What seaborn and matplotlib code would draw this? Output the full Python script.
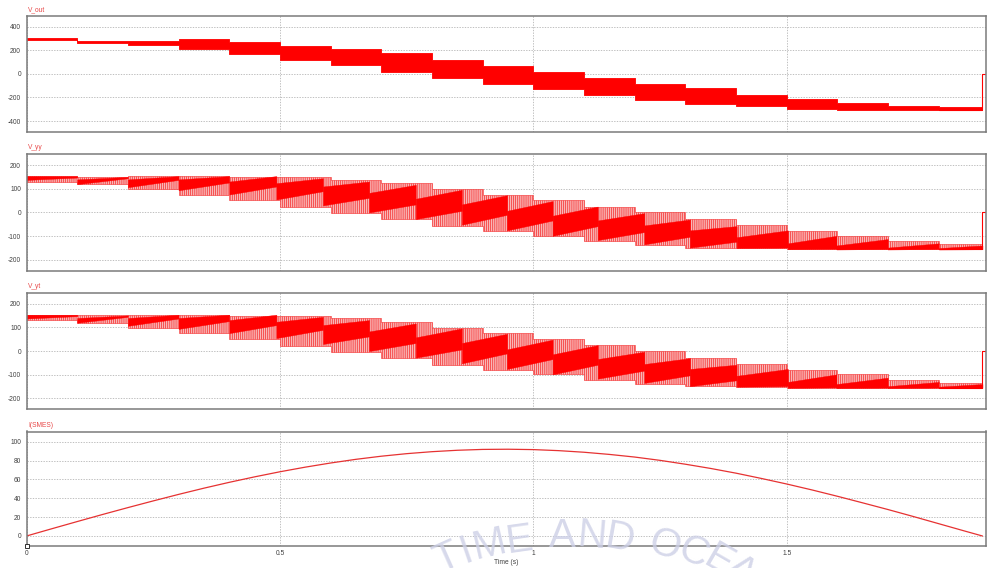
import matplotlib
matplotlib.use("Agg")
import matplotlib.pyplot as plt
import numpy as np
import pandas as pd
import seaborn as sns

sns.set_theme(style="white")
plt.rcParams["font.family"] = ["Liberation Sans", "DejaVu Sans"]
plt.rcParams["hatch.linewidth"] = 0.5

RED = "#ff0000"
LABEL_RED = "#e84848"

# ---------------- time base ----------------
step_edges = [0.0, 0.1, 0.2, 0.3, 0.4, 0.5, 0.6, 0.7, 0.8, 0.9, 1.0,
              1.1, 1.2, 1.3, 1.4, 1.5, 1.6, 1.7, 1.8, 1.886]
t_stop = 1.886
t_axis_end = 1.893

# ---------------- V_out: switched band per step ----------------
vout_high = [300, 282, 282, 298, 270, 240, 212, 174, 118, 69, 19, -33,
             -84, -124, -179, -212, -248, -270, -283]
vout_low = [285, 265, 243, 207, 170, 118, 74, 19, -36, -85, -132, -179,
            -220, -256, -275, -298, -303, -303, -303]

# ---------------- V_yy ----------------
vyy_high = [154, 151, 154, 154, 150, 149, 138, 124, 99, 76, 51, 25, 0,
            -28, -55, -80, -99, -121, -135]
vyy_low = [131, 120, 99, 76, 51, 23, -3, -28, -58, -80, -99, -121, -138,
           -149, -151, -156, -156, -156, -156]
vyy_ramp_edges = [0.0, 0.1, 0.2, 0.3, 0.4, 0.493, 0.585, 0.676, 0.768,
                  0.859, 0.948, 1.038, 1.127, 1.219, 1.309, 1.401, 1.502,
                  1.598, 1.699, 1.800, 1.886]
vyy_ramp_top_start = [154, 140, 140, 140, 131, 124, 110, 83, 58, 34, 7,
                      -14, -34, -55, -76, -105, -131, -140, -149, -151]
vyy_ramp_top_end = [154, 151, 154, 154, 154, 145, 131, 117, 96, 73, 48,
                    25, -3, -30, -58, -76, -99, -113, -131, -140]
vyy_ramp_bot_start = [138, 120, 107, 94, 76, 55, 30, 0, -28, -52, -76,
                      -99, -117, -135, -149, -151, -156, -157, -157, -157]
vyy_ramp_bot_end = [148, 145, 138, 127, 110, 90, 62, 34, 7, -10, -34,
                    -58, -83, -103, -124, -149, -154, -155, -155, -156]

# ---------------- V_yt ----------------
vyt_high = [154, 151, 154, 154, 150, 149, 138, 124, 99, 76, 51, 25, 0,
            -28, -55, -80, -99, -121, -135]
vyt_low = [131, 120, 99, 76, 51, 23, -3, -28, -58, -80, -99, -121, -138,
           -149, -151, -156, -156, -156, -156]
vyt_ramp_edges = [0.0, 0.1, 0.2, 0.3, 0.4, 0.493, 0.585, 0.676, 0.768,
                  0.859, 0.948, 1.038, 1.127, 1.219, 1.309, 1.401, 1.502,
                  1.598, 1.699, 1.800, 1.886]
vyt_ramp_top_start = [154, 140, 140, 140, 131, 124, 110, 83, 58, 34, 7,
                      -14, -34, -55, -76, -105, -131, -140, -149, -151]
vyt_ramp_top_end = [154, 151, 154, 154, 154, 145, 131, 117, 96, 73, 48,
                    25, -3, -30, -58, -76, -99, -113, -131, -140]
vyt_ramp_bot_start = [138, 120, 107, 94, 76, 55, 30, 0, -28, -52, -76,
                      -99, -117, -135, -149, -151, -156, -157, -157, -157]
vyt_ramp_bot_end = [148, 145, 138, 127, 110, 90, 62, 34, 7, -10, -34,
                    -58, -83, -103, -124, -149, -154, -155, -155, -156]

# ---------------- I(SMES) ----------------
i_time = [0.00, 0.05, 0.10, 0.15, 0.20, 0.25, 0.30, 0.35, 0.40, 0.45,
          0.50, 0.55, 0.60, 0.65, 0.70, 0.75, 0.80, 0.85, 0.90, 0.95,
          1.00, 1.05, 1.10, 1.15, 1.20, 1.25, 1.30, 1.35, 1.40, 1.45,
          1.50, 1.55, 1.60, 1.65, 1.70, 1.75, 1.80, 1.85, 1.886]
i_smes = [0, 7.7, 15.3, 22.8, 30.1, 37.2, 44.1, 50.7, 56.9, 62.7,
          68.1, 73.0, 77.4, 81.3, 84.6, 87.3, 89.4, 90.9, 91.8, 92.0,
          91.6, 90.5, 88.8, 86.5, 83.7, 80.2, 76.1, 71.6, 66.6, 61.0,
          55.1, 48.8, 42.1, 35.1, 28.0, 20.6, 13.0, 5.4, 0]

W_PX, H_PX = 988, 568
fig = plt.figure(figsize=(W_PX / 100, H_PX / 100), dpi=100)
fig.patch.set_facecolor("white")

left = 26.5 / W_PX
width = 959.5 / W_PX
tops = [15.7, 154.3, 292.9, 431.5]
heights = [116.3, 116.3, 116.3, 114.3]
axes = []
for top, h in zip(tops, heights):
    axes.append(fig.add_axes([left, 1 - (top + h) / H_PX, width, h / H_PX]))


def frame(ax, ylim, yticks, title):
    ax.set_xlim(0, t_axis_end)
    ax.set_ylim(*ylim)
    ax.set_yticks(yticks)
    ax.set_yticklabels([f"{v:g}" for v in yticks])
    ax.set_xticks([0, 0.5, 1, 1.5])
    ax.set_facecolor("white")
    ax.grid(True, color="#b4b4b4", linestyle=(0, (1.6, 1.6)), linewidth=0.6)
    ax.set_axisbelow(True)
    for sp in ax.spines.values():
        sp.set_color("#7a7a7a")
        sp.set_linewidth(1.1)
    ax.tick_params(axis="both", length=0, labelsize=4.8, colors="#404040",
                   pad=4)
    ax.tick_params(axis="x", labelbottom=False)
    ax.text(0.0015, 1.025, title, transform=ax.transAxes, color=LABEL_RED,
            fontsize=4.8, ha="left", va="bottom")


def tail(ax, last_low):
    tail_df = pd.DataFrame({"t": [step_edges[-2], t_stop, t_stop, t_axis_end],
                            "v": [last_low, last_low, 0, 0]})
    sns.lineplot(data=tail_df, x="t", y="v", sort=False, estimator=None,
                 color=RED, linewidth=0.8, ax=ax)


def stepped_band(ax, high, low, **kw):
    ax.fill_between(step_edges, list(high) + [high[-1]], list(low) + [low[-1]],
                    step="post", **kw)


# V_out
ax = axes[0]
frame(ax, (-493, 493), [-400, -200, 0, 200, 400], "V_out")
stepped_band(ax, vout_high, vout_low, facecolor=RED, edgecolor=RED,
             linewidth=0.6)
tail(ax, vout_low[-1])


def converter_panel(ax, title, high, low, edges, ts, te, bs, be):
    frame(ax, (-246.5, 246.5), [-200, -100, 0, 100, 200], title)
    stepped_band(ax, high, low, facecolor="#f9b6b6", edgecolor="#f52a2a",
                 hatch="||||||||", linewidth=0.4)
    for i in range(len(ts)):
        ax.fill_between([edges[i], edges[i + 1]], [bs[i], be[i]],
                        [ts[i], te[i]], color=RED, linewidth=0.3)
    tail(ax, low[-1])


converter_panel(axes[1], "V_yy", vyy_high, vyy_low, vyy_ramp_edges,
                vyy_ramp_top_start, vyy_ramp_top_end,
                vyy_ramp_bot_start, vyy_ramp_bot_end)
converter_panel(axes[2], "V_yt", vyt_high, vyt_low, vyt_ramp_edges,
                vyt_ramp_top_start, vyt_ramp_top_end,
                vyt_ramp_bot_start, vyt_ramp_bot_end)

# I(SMES)
ax = axes[3]
frame(ax, (-10.4, 110.8), [0, 20, 40, 60, 80, 100], "I(SMES)")
sns.lineplot(x=i_time, y=i_smes, color="#e63232", linewidth=0.9, ax=ax)
ax.tick_params(axis="x", labelbottom=True, pad=3)
ax.set_xticklabels(["0", "0.5", "1", "1.5"])
ax.plot([0], [-10.4], marker="s", markersize=3.2, markerfacecolor="white",
        markeredgecolor="#303030", markeredgewidth=0.7, clip_on=False,
        zorder=5)
fig.text(left + width / 2, 1 - 563 / H_PX, "Time (s)", fontsize=4.8,
         color="#404040", ha="center", va="center")

for a in axes:
    a.set_xlabel("")
    a.set_ylabel("")

# seal lettering along the lower edge
seal = [("T", 447, 558, 24), ("I", 466, 551, 19), ("M", 490, 545, 13),
        ("E", 519, 540, 8), ("A", 562, 536, 0), ("N", 592, 536, -5),
        ("D", 620, 539, -10), ("O", 664, 545, -18), ("C", 694, 553, -24),
        ("E", 719, 561, -30), ("A", 741, 571, -36)]
for ch, x, y, rot in seal:
    fig.text(x / W_PX, 1 - y / H_PX, ch, fontsize=29, color="#cdd0e6",
             ha="center", va="center", rotation=rot, alpha=0.8)

fig.savefig("out.png", dpi=100, facecolor="white")
